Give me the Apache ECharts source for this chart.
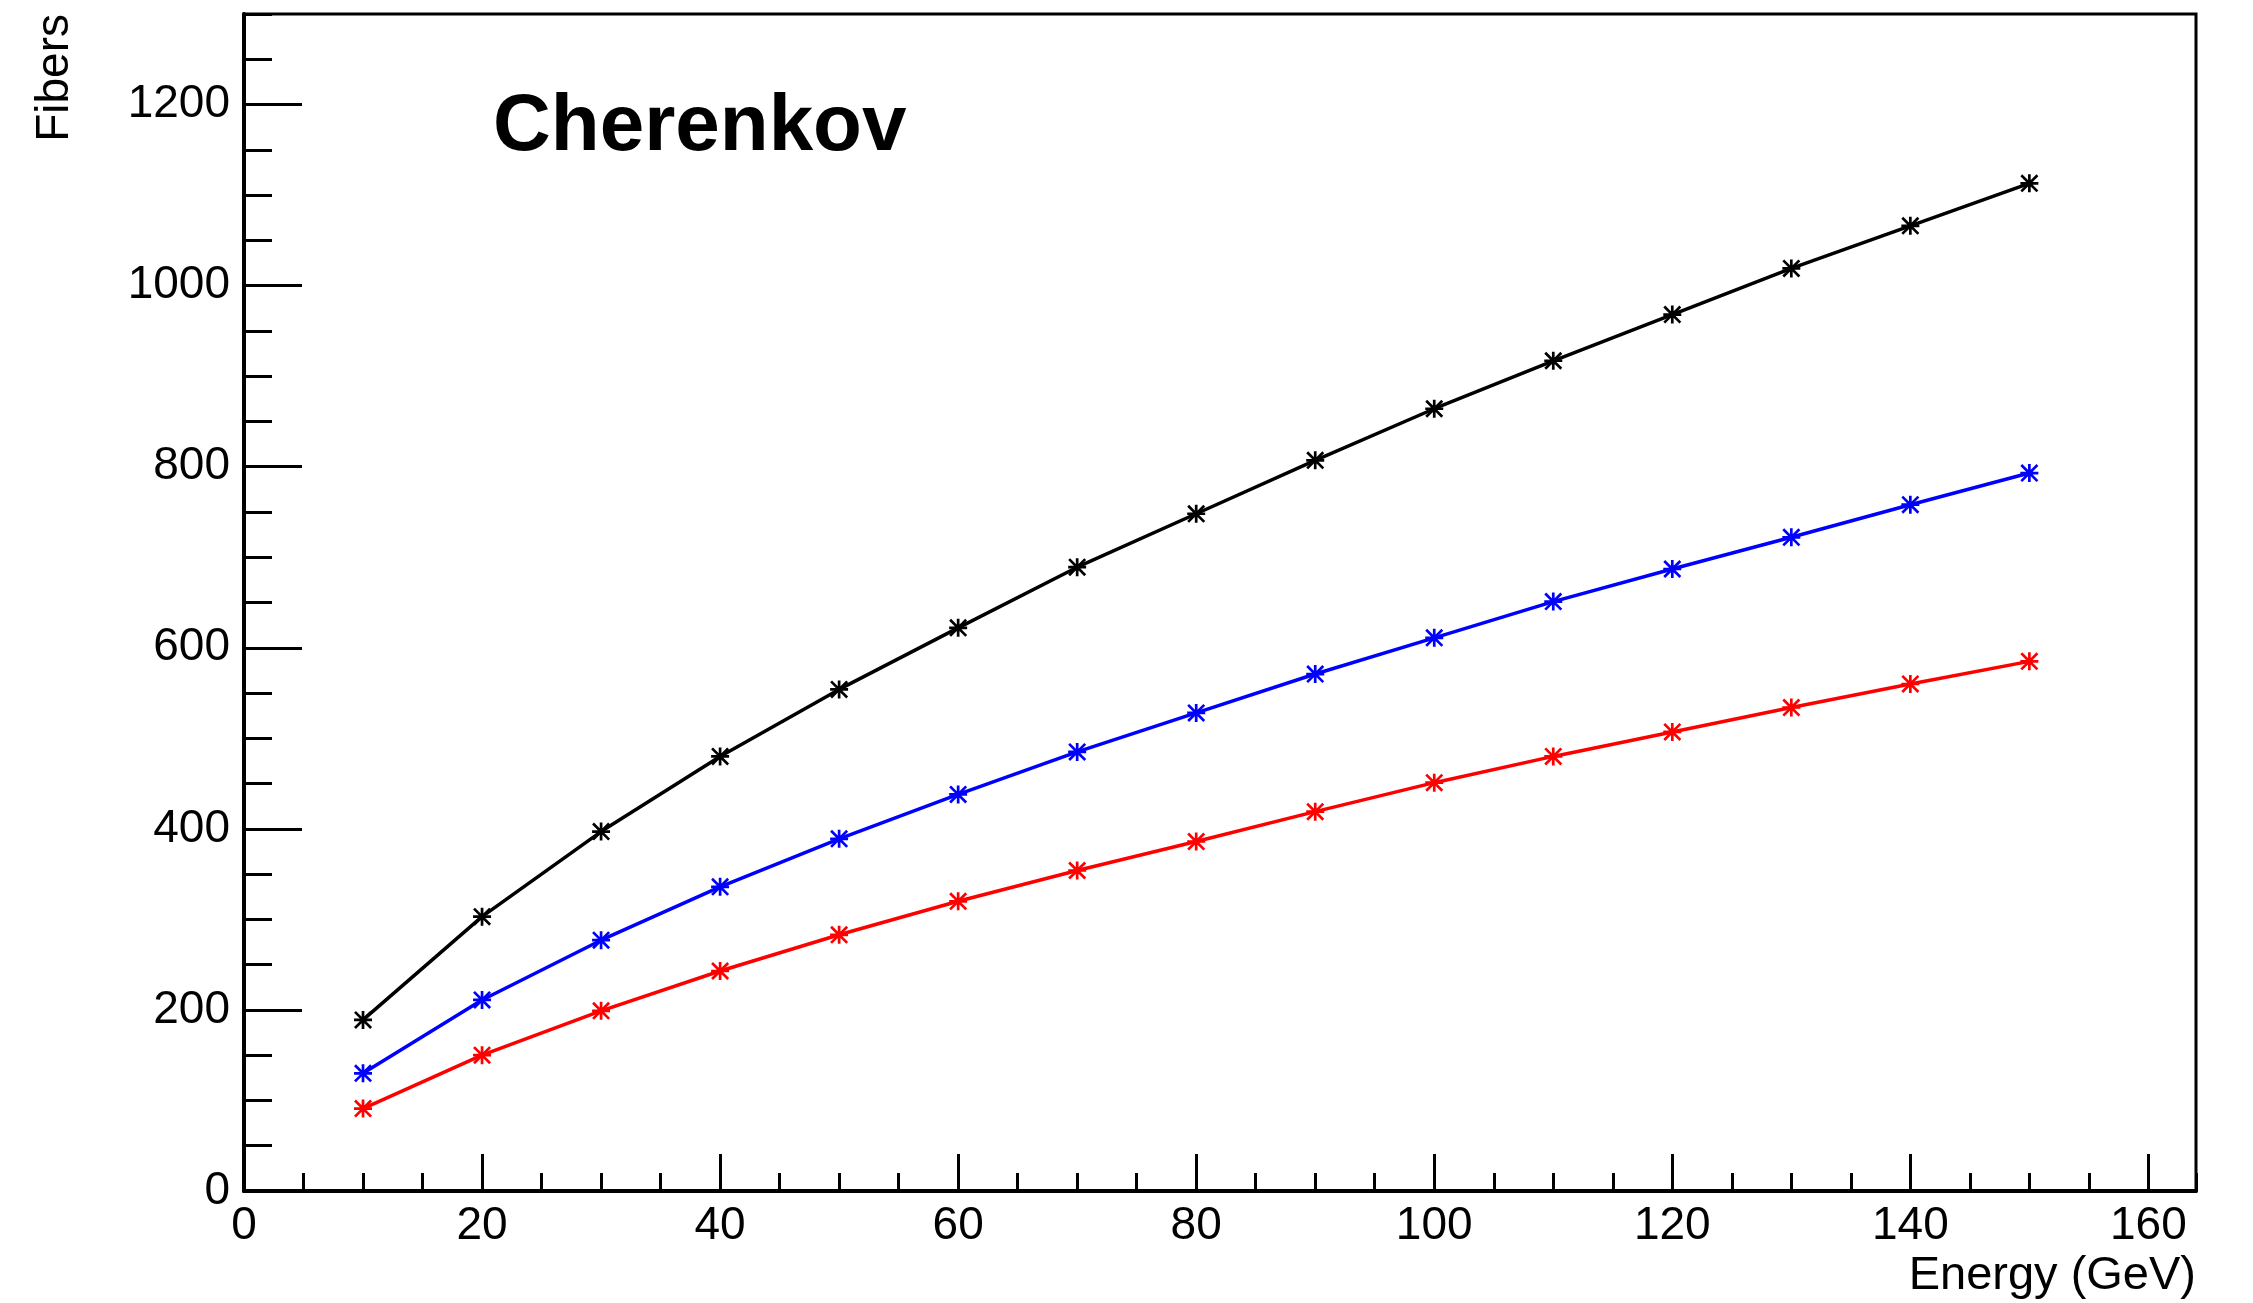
<!DOCTYPE html>
<html>
<head>
<meta charset="utf-8">
<title>Cherenkov</title>
<script src="https://cdn.jsdelivr.net/npm/echarts@6/dist/echarts.min.js"></script>
<style>
  html, body { margin: 0; padding: 0; background: #fff; }
  #chart { width: 2253px; height: 1303px; }
</style>
</head>
<body>
<div id="chart"></div>
<script>
// Beam energies (GeV)
const energies = [10, 20, 30, 40, 50, 60, 70, 80, 90, 100, 110, 120, 130, 140, 150];
// Number of Cherenkov fibers hit, one curve per colour
const fibersBlack = [189, 303, 397, 480, 554, 622, 689, 748, 807, 864, 917, 968, 1019, 1066, 1113];
const fibersBlue  = [130, 211, 277, 336, 389, 438, 485, 528, 571, 611, 651, 687, 722, 758, 793];
const fibersRed   = [91, 150, 199, 243, 283, 320, 354, 386, 419, 451, 480, 507, 534, 560, 585];

const FONT = '"Liberation Sans", Arial, Helvetica, sans-serif';

// Eight-armed asterisk marker (plus and cross overlaid)
const STAR = 'path://M0 8.5 L20 8.5 L20 11.5 L0 11.5 Z M8.5 0 L11.5 0 L11.5 20 L8.5 20 Z ' +
             'M2.1 0 L20 17.9 L17.9 20 L0 2.1 Z M17.9 0 L20 2.1 L2.1 20 L0 17.9 Z';

function makeSeries(name, values, color) {
  return {
    name: name,
    type: 'line',
    xAxisIndex: 0,
    yAxisIndex: 0,
    data: energies.map((e, i) => [e, values[i]]),
    symbol: STAR,
    symbolSize: 18,
    showSymbol: true,
    lineStyle: { color: color, width: 3.5 },
    itemStyle: { color: color },
    emphasis: { disabled: true },
    animation: false
  };
}

const chart = echarts.init(document.getElementById('chart'), null, { renderer: 'canvas' });

const tickLabel = { color: '#000', fontFamily: FONT, fontSize: 46, formatter: v => String(v) };

chart.setOption({
  backgroundColor: '#fff',
  animation: false,
  title: {
    text: 'Cherenkov',
    left: 493,
    top: 88,
    padding: 0,
    textStyle: { fontFamily: FONT, fontSize: 80, fontWeight: 'bold', color: '#000' }
  },
  grid: {
    left: 244, right: 57, top: 14, bottom: 112,
    show: true, borderColor: '#000', borderWidth: 3, backgroundColor: 'transparent'
  },
  xAxis: [
    {
      type: 'value', min: 0, max: 164, interval: 20, position: 'bottom',
      name: 'Energy (GeV)', nameLocation: 'end', nameGap: 0,
      nameTextStyle: {
        fontFamily: FONT, fontSize: 47, color: '#000',
        align: 'right', verticalAlign: 'top', padding: [62, 0, 0, 0]
      },
      axisLine: { show: true, onZero: false, lineStyle: { color: '#000', width: 4 } },
      axisTick: { show: true, inside: true, length: 37, lineStyle: { color: '#000', width: 3 } },
      axisLabel: Object.assign({ margin: 12, showMaxLabel: false }, tickLabel),
      splitLine: { show: false }
    },
    {
      type: 'value', min: 0, max: 164, interval: 5, position: 'bottom',
      axisLine: { show: false, onZero: false },
      axisTick: { show: true, inside: true, length: 18, lineStyle: { color: '#000', width: 3 } },
      axisLabel: { show: false },
      splitLine: { show: false }
    }
  ],
  yAxis: [
    {
      type: 'value', min: 0, max: 1300, interval: 200, position: 'left',
      name: 'Fibers', nameLocation: 'end', nameGap: 0, nameRotate: 90,
      nameTextStyle: {
        fontFamily: FONT, fontSize: 46, color: '#000',
        align: 'right', verticalAlign: 'bottom', padding: [0, 0, 166, 0]
      },
      axisLine: { show: true, onZero: false, lineStyle: { color: '#000', width: 4 } },
      axisTick: { show: true, inside: true, length: 58, lineStyle: { color: '#000', width: 3 } },
      axisLabel: Object.assign({ margin: 14, showMaxLabel: false }, tickLabel),
      splitLine: { show: false }
    },
    {
      type: 'value', min: 0, max: 1300, interval: 50, position: 'left',
      axisLine: { show: false, onZero: false },
      axisTick: { show: true, inside: true, length: 28, lineStyle: { color: '#000', width: 3 } },
      axisLabel: { show: false },
      splitLine: { show: false }
    }
  ],
  series: [
    makeSeries('black', fibersBlack, '#000000'),
    makeSeries('blue', fibersBlue, '#0000ff'),
    makeSeries('red', fibersRed, '#ff0000')
  ]
});
</script>
</body>
</html>
